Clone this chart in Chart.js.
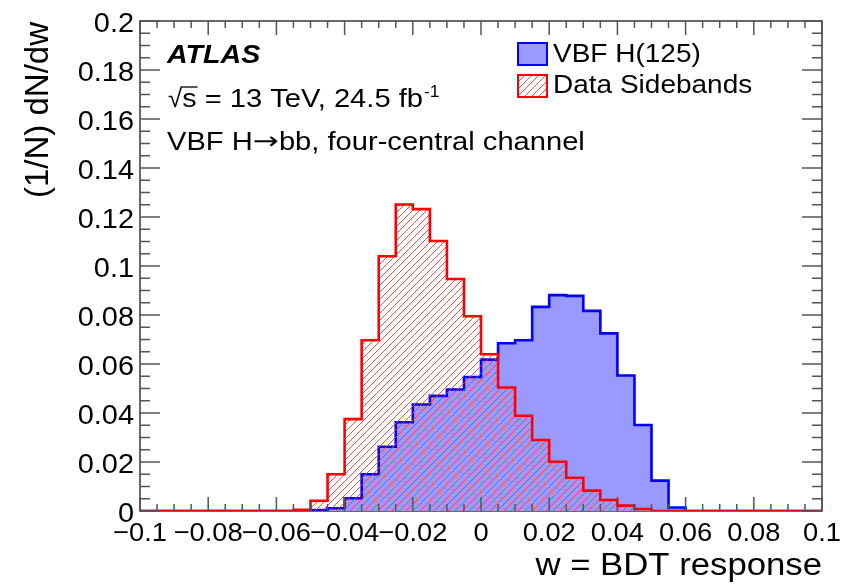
<!DOCTYPE html>
<html>
<head>
<meta charset="utf-8">
<script src="https://cdn.jsdelivr.net/npm/chart.js@4/dist/chart.umd.min.js"></script>
<style>
  html, body { margin: 0; padding: 0; background: #fff; }
  #wrap { width: 852px; height: 585px; position: relative; }
</style>
</head>
<body>
<div id="wrap"><canvas id="c"></canvas></div>
<script>
/* ---------- data ---------- */
const binEdges = [
  -0.1, -0.095, -0.09, -0.085, -0.08, -0.075, -0.07, -0.065, -0.06, -0.055,
  -0.05, -0.045, -0.04, -0.035, -0.03, -0.025, -0.02, -0.015, -0.01, -0.005,
  0, 0.005, 0.01, 0.015, 0.02, 0.025, 0.03, 0.035, 0.04, 0.045,
  0.05, 0.055, 0.06, 0.065, 0.07, 0.075, 0.08, 0.085, 0.09, 0.095, 0.1,
];
const vbfH125 = [
  0, 0, 0, 0, 0, 0, 0, 0, 0, 0.0003,
  0.0004, 0.0011, 0.0052, 0.015, 0.0262, 0.0362, 0.0435, 0.047, 0.0496, 0.0547,
  0.0618, 0.0685, 0.0697, 0.0833, 0.0881, 0.0878, 0.0817, 0.0725, 0.0553, 0.0351,
  0.0124, 0.0014, 0, 0, 0, 0, 0, 0, 0, 0,
];
const dataSidebands = [
  0, 0, 0, 0, 0, 0, 0, 0, 0, 0.0005,
  0.0042, 0.015, 0.0375, 0.0697, 0.104, 0.1251, 0.1232, 0.1102, 0.0947, 0.0795,
  0.064, 0.0504, 0.0389, 0.029, 0.0201, 0.0136, 0.0083, 0.0045, 0.0022, 0.0008,
  0, 0, 0, 0, 0, 0, 0, 0, 0, 0,
];
const seriesLabels = ["VBF H(125)", "Data Sidebands"];
const xRange = [-0.1, 0.1];
const yRange = [0, 0.2];
const majorStep = 0.02;
const minorStep = 0.005;

/* ---------- helpers ---------- */
const FONT = "'Liberation Sans', Arial, Helvetica, sans-serif";
const BLUE = "#0000ff", BLUE_FILL = "rgb(153,153,255)", RED = "#ff0000";
const HATCH_COLOR = "rgba(255,50,50,0.85)", HATCH_STEP = 7;

// histogram outline: one point per left bin edge + closing right edge
const toSteps = (vals) => {
  const pts = vals.map((v, i) => ({ x: binEdges[i], y: v }));
  pts.push({ x: binEdges[vals.length], y: vals[vals.length - 1] });
  return pts;
};

const fmtTick = (v) => {
  const r = Math.round(v * 1000) / 1000;
  return r === 0 ? "0" : String(r).replace("-", "\u2212");
};

// "///" hatching inside the current clip region
function hatchLines(ctx, x0, y0, x1, y1) {
  const h = y1 - y0;
  ctx.save();
  ctx.strokeStyle = HATCH_COLOR;
  ctx.lineWidth = 1;
  ctx.beginPath();
  for (let d = -h; d < x1 - x0 + h; d += HATCH_STEP) {
    ctx.moveTo(x0 + d, y1);
    ctx.lineTo(x0 + d + h, y0);
  }
  ctx.stroke();
  ctx.restore();
}

function drawText(ctx, s, x, y, o = {}) {
  const size = o.size || 26, sx = o.sx || 1;
  ctx.save();
  ctx.font = `${o.style || ""} ${o.weight || ""} ${size}px ${o.family || FONT}`;
  ctx.fillStyle = o.color || "#000";
  ctx.textBaseline = "alphabetic";
  ctx.textAlign = "left";
  const w = ctx.measureText(s).width * sx;
  const x0 = o.align === "right" ? x - w : o.align === "center" ? x - w / 2 : x;
  ctx.translate(x0, y);
  ctx.scale(sx, 1);
  ctx.fillText(s, 0, 0);
  ctx.restore();
  return w;
}

/* ---------- ROOT style frame, ticks, hatch, labels ---------- */
const rootStyle = {
  id: "rootStyle",
  beforeDatasetsDraw(chart) {
    const { ctx, chartArea: a } = chart;
    ctx.save();
    ctx.strokeStyle = "#444";
    ctx.lineWidth = 1.6;
    ctx.strokeRect(a.left, a.top, a.right - a.left, a.bottom - a.top);
    ctx.restore();
  },
  beforeDatasetDraw(chart, args) {
    if (!chart.data.datasets[args.index].hatched) return;
    const { ctx, chartArea: a, scales: { y } } = chart;
    const pts = args.meta.data;
    const base = y.getPixelForValue(0);
    ctx.save();
    ctx.beginPath();
    ctx.moveTo(pts[0].x, base);
    for (let i = 0; i < pts.length - 1; i++) {
      ctx.lineTo(pts[i].x, pts[i].y);
      ctx.lineTo(pts[i + 1].x, pts[i].y);
    }
    ctx.lineTo(pts[pts.length - 1].x, base);
    ctx.closePath();
    ctx.clip();
    hatchLines(ctx, a.left, a.top, a.right, a.bottom);
    ctx.restore();
  },
  afterDatasetsDraw(chart) {
    const { ctx, chartArea: a, scales: { x, y } } = chart;
    ctx.save();
    ctx.strokeStyle = "#555";
    ctx.lineWidth = 1.5;
    ctx.beginPath();
    const nx = Math.round((xRange[1] - xRange[0]) / minorStep);
    for (let k = 0; k <= nx; k++) {
      const px = x.getPixelForValue(xRange[0] + k * minorStep);
      const len = k % 4 === 0 ? 14 : 7;
      ctx.moveTo(px, a.bottom); ctx.lineTo(px, a.bottom - len);
      ctx.moveTo(px, a.top); ctx.lineTo(px, a.top + len);
    }
    const ny = Math.round((yRange[1] - yRange[0]) / minorStep);
    for (let k = 0; k <= ny; k++) {
      const py = y.getPixelForValue(yRange[0] + k * minorStep);
      const len = k % 4 === 0 ? 20 : 10;
      ctx.moveTo(a.left, py); ctx.lineTo(a.left + len, py);
      ctx.moveTo(a.right, py); ctx.lineTo(a.right - len, py);
    }
    ctx.stroke();
    ctx.restore();
  },
  afterDraw(chart) {
    const { ctx, chartArea: a, scales: { x, y } } = chart;

    // tick labels
    y.ticks.forEach((t) => {
      const py = y.getPixelForValue(t.value);
      drawText(ctx, fmtTick(t.value), a.left - 6, py + 10.5, { size: 27, align: "right", sx: 1.07 });
    });
    x.ticks.forEach((t) => {
      const px = x.getPixelForValue(t.value);
      drawText(ctx, fmtTick(t.value), px, 541, { size: 26, align: "center", sx: 1.05 });
    });

    // axis titles
    drawText(ctx, "w = BDT response", a.right, 575, { size: 31, align: "right", sx: 1.12 });
    ctx.save();
    ctx.translate(48, 22);
    ctx.rotate(-Math.PI / 2);
    drawText(ctx, "(1/N) dN/dw", 0, 0, { size: 33, align: "right" });
    ctx.restore();

    // ATLAS labels
    drawText(ctx, "ATLAS", 167, 63, { size: 26, weight: "bold", style: "italic", sx: 1.1 });
    let cx = 168;
    const wr = drawText(ctx, "\u221A", cx, 107, { size: 26 });
    const ws = drawText(ctx, "s", cx + wr, 107, { size: 26, sx: 1.1 });
    ctx.save();
    ctx.strokeStyle = "#000"; ctx.lineWidth = 1.3;
    ctx.beginPath(); ctx.moveTo(cx + wr - 1, 87); ctx.lineTo(cx + wr + ws + 1, 87); ctx.stroke();
    ctx.restore();
    cx += wr + ws;
    cx += drawText(ctx, " = 13 TeV, 24.5 fb", cx, 107, { size: 26, sx: 1.12 });
    drawText(ctx, "-1", cx + 1, 97, { size: 16, sx: 1.1 });

    cx = 167;
    cx += drawText(ctx, "VBF H", cx, 150, { size: 26, sx: 1.12 });
    cx += drawText(ctx, "\u2192", cx, 149, { size: 24, sx: 1.3, family: "'DejaVu Sans', sans-serif" });
    drawText(ctx, "bb, four-central channel", cx, 150, { size: 26, sx: 1.12 });

    // legend
    const ds = chart.data.datasets;
    const boxes = [
      { y0: 43, ds: ds[0], base: 62 },
      { y0: 75, ds: ds[1], base: 93 },
    ];
    boxes.forEach((b) => {
      const bx = 518, bw = 29, bh = 22;
      ctx.save();
      ctx.beginPath();
      ctx.rect(bx, b.y0, bw, bh);
      ctx.clip();
      if (b.ds.hatched) hatchLines(ctx, bx, b.y0, bx + bw, b.y0 + bh);
      else { ctx.fillStyle = b.ds.backgroundColor; ctx.fillRect(bx, b.y0, bw, bh); }
      ctx.restore();
      ctx.save();
      ctx.strokeStyle = b.ds.borderColor; ctx.lineWidth = 2;
      ctx.strokeRect(bx, b.y0, bw, bh);
      ctx.restore();
      drawText(ctx, b.ds.label, 553, b.base, { size: 25, sx: 1.12 });
    });
  },
};

/* ---------- chart ---------- */
const histo = (label, vals, line, fill, order, hatched) => ({
  label, data: toSteps(vals), stepped: "before", hatched,
  borderColor: line, backgroundColor: fill, borderWidth: 2.6,
  fill: hatched ? false : "origin", pointRadius: 0, tension: 0, order,
});

new Chart(document.getElementById("c"), {
  type: "line",
  data: {
    datasets: [
      histo(seriesLabels[0], vbfH125, BLUE, BLUE_FILL, 2, false),
      histo(seriesLabels[1], dataSidebands, RED, "rgba(0,0,0,0)", 1, true),
    ],
  },
  options: {
    responsive: true, maintainAspectRatio: false, animation: false,
    events: [],
    layout: { padding: { top: 21, right: 30, left: 0, bottom: 0 } },
    plugins: { legend: { display: false }, tooltip: { enabled: false } },
    scales: {
      x: {
        type: "linear", min: xRange[0], max: xRange[1],
        ticks: { display: false, stepSize: majorStep },
        grid: { display: false }, border: { display: false },
        afterFit: (s) => { s.height = 74; },
      },
      y: {
        type: "linear", min: yRange[0], max: yRange[1],
        ticks: { display: false, stepSize: majorStep },
        grid: { display: false }, border: { display: false },
        afterFit: (s) => { s.width = 140; },
      },
    },
  },
  plugins: [rootStyle],
});
</script>
</body>
</html>
